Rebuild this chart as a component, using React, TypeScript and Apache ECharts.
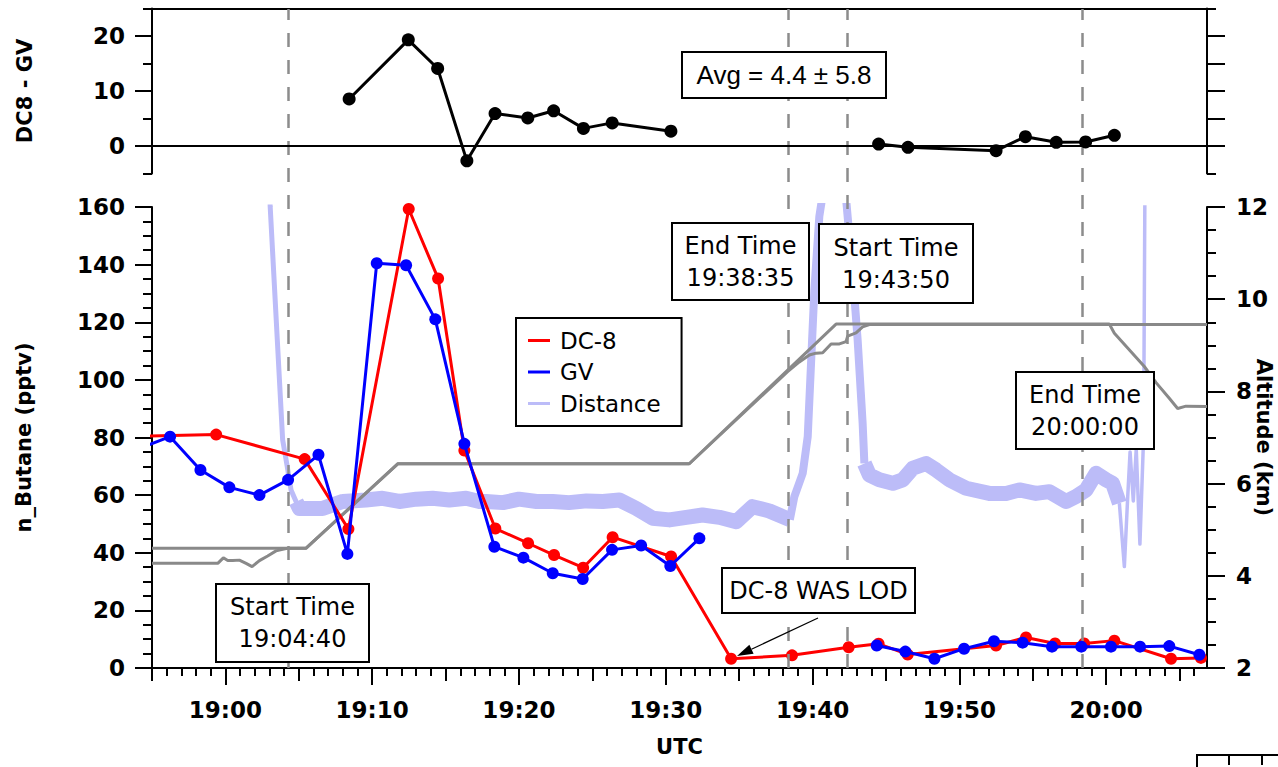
import React, { useEffect, useRef } from "react";
import * as echarts from "echarts";

// ---- data (x = minutes after 19:00 UTC) ----
const xMin = -5;
const xMax = 66.87;

const dc8Time = [-6.5, -0.63, 5.4, 8.38, 12.49, 14.49, 16.28, 18.39, 20.62, 22.39, 24.37, 26.38, 30.36, 34.45, 38.6, 42.46, 44.5, 46.48, 52.5, 54.54, 56.52, 58.5, 60.56, 64.42, 66.46];
const dc8Butane = [80.4, 81, 72.5, 48.2, 159.3, 135.2, 75.5, 48.4, 43.3, 39.2, 34.8, 45.4, 38.7, 3.2, 4.4, 7.2, 8.4, 4.7, 7.8, 10.6, 8.5, 8.5, 9.5, 3.2, 3.5];

const gvTime = [-5.8, -3.77, -1.7, 0.27, 2.32, 4.27, 6.34, 8.31, 10.31, 12.31, 14.3, 16.28, 18.32, 20.3, 22.3, 24.34, 26.34, 28.32, 30.31, 32.29, 38, 44.37, 46.32, 48.3, 50.32, 52.36, 54.31, 56.31, 58.31, 60.33, 62.31, 64.3, 66.35];
const gvButane = [76.3, 80.3, 68.7, 62.7, 60, 65.3, 74, 39.6, 140.5, 139.8, 121, 77.8, 42.1, 38.3, 32.9, 30.9, 41.0, 42.5, 35.4, 45.0, null, 7.8, 5.7, 3.2, 6.7, 9.3, 8.8, 7.4, 7.4, 7.4, 7.4, 7.6, 4.6];

const diffTime = [8.43, 12.46, 14.46, 16.45, 18.37, 20.6, 22.36, 24.39, 26.35, 30.35, 38, 44.5, 46.5, 52.5, 54.5, 56.6, 58.6, 60.56];
const diffValue = [8.55, 19.3, 14.1, -2.7, 5.9, 5.1, 6.4, 3.2, 4.2, 2.7, null, 0.36, -0.24, -0.85, 1.7, 0.67, 0.73, 1.94];

// altitude (km)
const altATime = [-5, 5.5, 11.74, 31.6, 41.6, 60.22, 60.56, 62.6, 63.4, 64.3, 64.87, 65.44, 66.87];
const altAKm = [4.6, 4.6, 6.43, 6.43, 9.46, 9.46, 9.26, 8.54, 8.19, 7.85, 7.63, 7.68, 7.67];
const altBTime = [-5, -0.52, -0.14, 0.16, 0.5, 0.95, 1.41, 1.82, 2.32, 2.88, 3.45, 4.13, 4.36, 5.5, 11.74, 31.6, 38.3, 39.1, 39.78, 40.24, 40.69, 41.26, 41.83, 42.28, 42.39, 42.96, 43.41, 43.87, 66.87];
const altBKm = [4.27, 4.27, 4.39, 4.33, 4.33, 4.34, 4.27, 4.2, 4.33, 4.43, 4.54, 4.59, 4.6, 4.6, 6.43, 6.43, 8.43, 8.64, 8.79, 8.83, 8.84, 9.03, 9.03, 9.08, 9.2, 9.27, 9.4, 9.45, 9.45];

// distance trace (plotted on its own hidden scale)
const distEntryTime = [3.0, 3.05, 3.9, 4.02, 4.25, 4.47, 4.82, 5.04];
const distEntry = [175, 160.2, 79.2, 75.7, 68.75, 61.8, 57.7, 55.4];
const distBandATime = [4.82, 5.04, 6.63, 8.0, 9.58, 10.7, 11.85, 13.0, 14.12, 15.26, 16.4, 17.3, 17.76, 18.9, 20.0, 21.2, 22.3, 23.4, 24.6, 25.7, 26.84, 27.98, 29.1, 30.25, 31.4, 32.5, 33.65, 34.8, 35.9, 37.06, 38.08, 38.45];
const distBandA = [57.7, 55.4, 55.4, 57.8, 58.3, 58.9, 57.8, 58.6, 58.9, 58.3, 58.9, 57.8, 57.8, 57.4, 58.6, 57.8, 57.8, 57.4, 58.0, 57.8, 58.3, 55.4, 52, 51.4, 52.3, 53.1, 52.3, 50.8, 56, 54.5, 52.3, 51.5];
const distPeakTime = [38.45, 38.76, 39.33, 39.67, 40.12, 40.46, 40.8, 41.5, 42.0, 42.28, 42.73, 43.07, 43.41, 43.53];
const distPeak = [51.5, 59.5, 67.6, 80.3, 131, 156.7, 168, 175, 172, 163, 137, 113.9, 85, 71];
const distBandBTime = [43.53, 43.87, 44.55, 45.46, 46.14, 46.82, 47.73, 48.41, 49.32, 50.46, 52.04, 53.18, 54.09, 55.22, 56.13, 57.27, 57.95, 58.63, 59.31, 60.0, 60.44, 60.9];
const distBandB = [71, 67, 65.3, 64.1, 65.3, 69.3, 71, 68.75, 65.3, 62.4, 60.6, 60.6, 61.8, 60.6, 61.2, 57.8, 59.5, 61.8, 67.6, 65.3, 64.1, 57.2];
const distSpikeTime = [60.9, 61.24, 61.47, 61.63, 61.85, 62.05, 62.3, 62.55, 62.65];
const distSpike = [57.2, 35.2, 59.5, 75, 58, 76, 43, 80, 175];

const boundaryTimes = [4.27, 38.32, 42.34, 58.34];

const xMajorTicks = [0, 10, 20, 30, 40, 50, 60];
const xMidTicks = [-5, 5, 15, 25, 35, 45, 55, 65];
const xMinorTicks: number[] = [];
for (let m = -5; m <= 66; m++) xMinorTicks.push(m);

const diffLabelTicks = [0, 10, 20];
const diffMinorTicks = [-5, 5, 15, 25];

// ---- styles ----
const FONT = "DejaVu Sans";
const RED = "#ff0000";
const BLUE = "#0000ff";
const DIST = "#bcbcf8";
const GRAY = "#898989";
const DASH = "#8c8c8c";
const black2 = { color: "#000", width: 2 };

const pairs = (xs: number[], ys: (number | null)[]) =>
  xs.map((x, i) => [x, ys[i] == null ? "-" : ys[i]]);

const fmtTime = (v: number) => {
  const t = Math.round(v);
  const h = 19 + Math.floor(t / 60);
  const m = ((t % 60) + 60) % 60;
  return `${h}:${String(m).padStart(2, "0")}`;
};

const titleStyle = { fontFamily: FONT, fontSize: 21, fontWeight: "bold", color: "#000" };
const tickLabel = { fontFamily: FONT, fontSize: 23, fontWeight: "bold", color: "#000" };

function box(x: number, y: number, w: number, h: number, text: string, font = FONT, size = 24) {
  return {
    type: "group",
    z: 100,
    children: [
      { type: "rect", z: 100, shape: { x, y, width: w, height: h }, style: { fill: "#fff", stroke: "#000", lineWidth: 2 } },
      {
        type: "text",
        z: 101,
        x: x + w / 2,
        y: y + h / 2,
        style: { text, fill: "#000", font: `${size}px '${font}'`, align: "center", verticalAlign: "middle", lineHeight: 32 },
      },
    ],
  };
}

// arrow
const arrowStart = [818, 618];
const arrowTip = [737, 656];
const ad = [arrowTip[0] - arrowStart[0], arrowTip[1] - arrowStart[1]];
const al = Math.hypot(ad[0], ad[1]);
const au = [ad[0] / al, ad[1] / al];
const headLen = 16, headHalf = 5;
const hb = [arrowTip[0] - au[0] * headLen, arrowTip[1] - au[1] * headLen];
const hn = [-au[1] * headHalf, au[0] * headHalf];

const yLine = (show: boolean) => ({ show, onZero: false, lineStyle: black2 });

const option: any = {
  animation: false,
  backgroundColor: "#fff",
  grid: [
    { left: 152, top: 8.5, width: 1055, height: 165, outerBoundsMode: "none", containLabel: false },
    { left: 152, top: 207, width: 1055, height: 461, outerBoundsMode: "none", containLabel: false },
    { left: 152, top: 9, width: 1055, height: 659, outerBoundsMode: "none", containLabel: false },
  ],
  legend: {
    data: ["DC-8", "GV", "Distance"],
    orient: "vertical",
    left: 516,
    top: 318,
    padding: [11, 21, 11, 12],
    itemWidth: 22,
    itemHeight: 3,
    itemGap: 8.5,
    icon: "rect",
    borderColor: "#000",
    borderWidth: 2,
    backgroundColor: "#fff",
    textStyle: { fontFamily: FONT, fontSize: 23, color: "#000", padding: [0, 0, 0, 5] },
    z: 50,
  },
  xAxis: [
    { gridIndex: 0, type: "value", min: xMin, max: xMax, show: false, axisLine: { onZero: false } },
    {
      gridIndex: 0, type: "value", min: xMin, max: xMax, position: "top",
      axisLine: { show: true, onZero: false, lineStyle: black2 },
      axisTick: { show: false }, axisLabel: { show: false }, splitLine: { show: false },
    },
    {
      gridIndex: 1, type: "value", min: xMin, max: xMax, position: "bottom",
      axisLine: { show: true, onZero: false, lineStyle: black2 },
      axisTick: { show: true, customValues: xMajorTicks, length: 17, lineStyle: black2 },
      axisLabel: { show: true, customValues: xMajorTicks, formatter: fmtTime, margin: 30, ...tickLabel },
      splitLine: { show: false },
      name: "UTC", nameLocation: "middle", nameGap: 68, nameTextStyle: titleStyle, nameMoveOverlap: false,
    },
    {
      gridIndex: 1, type: "value", min: xMin, max: xMax, position: "bottom",
      axisLine: { show: false, onZero: false },
      axisTick: { show: true, customValues: xMidTicks, length: 13, lineStyle: black2 },
      axisLabel: { show: false }, splitLine: { show: false },
    },
    {
      gridIndex: 1, type: "value", min: xMin, max: xMax, position: "bottom",
      axisLine: { show: false, onZero: false },
      axisTick: { show: true, customValues: xMinorTicks, length: 8, lineStyle: black2 },
      axisLabel: { show: false }, splitLine: { show: false },
    },
    { gridIndex: 2, type: "value", min: xMin, max: xMax, show: false, axisLine: { onZero: false } },
  ],
  yAxis: [
    {
      gridIndex: 0, type: "value", min: -5, max: 25, position: "left",
      axisLine: yLine(true),
      axisTick: { show: true, customValues: diffLabelTicks, length: 17, lineStyle: black2 },
      axisLabel: { show: true, customValues: diffLabelTicks, margin: 27, ...tickLabel },
      splitLine: { show: false },
      name: "DC8 - GV", nameLocation: "middle", nameRotate: 90, nameGap: 117, nameTextStyle: titleStyle, nameMoveOverlap: false,
    },
    {
      gridIndex: 0, type: "value", min: -5, max: 25, position: "left",
      axisLine: yLine(false),
      axisTick: { show: true, customValues: diffMinorTicks, length: 9, lineStyle: black2 },
      axisLabel: { show: false }, splitLine: { show: false },
    },
    {
      gridIndex: 0, type: "value", min: -5, max: 25, position: "right",
      axisLine: yLine(true),
      axisTick: { show: true, customValues: [0, 5, 10, 15, 20], length: 18, lineStyle: black2 },
      axisLabel: { show: false }, splitLine: { show: false },
    },
    {
      gridIndex: 0, type: "value", min: -5, max: 25, position: "right",
      axisLine: yLine(false),
      axisTick: { show: true, customValues: [-5, 25], length: 9, lineStyle: black2 },
      axisLabel: { show: false }, splitLine: { show: false },
    },
    {
      gridIndex: 1, type: "value", min: 0, max: 160, interval: 20, position: "left",
      axisLine: yLine(true),
      axisTick: { show: true, length: 17, lineStyle: black2 },
      minorTick: { show: true, splitNumber: 4, length: 9, lineStyle: black2 },
      axisLabel: { show: true, margin: 27, ...tickLabel },
      splitLine: { show: false }, minorSplitLine: { show: false },
      name: "n_Butane (pptv)", nameLocation: "middle", nameRotate: 90, nameGap: 118, nameTextStyle: titleStyle, nameMoveOverlap: false,
    },
    {
      gridIndex: 1, type: "value", min: 2, max: 12, interval: 2, position: "right",
      axisLine: yLine(true),
      axisTick: { show: true, length: 18, lineStyle: black2 },
      minorTick: { show: true, splitNumber: 4, length: 9, lineStyle: black2 },
      axisLabel: { show: true, margin: 29, ...tickLabel },
      splitLine: { show: false }, minorSplitLine: { show: false },
      name: "Altitude (km)", nameLocation: "middle", nameRotate: -90, nameGap: 46, nameTextStyle: titleStyle, nameMoveOverlap: false,
    },
    { gridIndex: 1, type: "value", min: 0, max: 160, show: false, axisLine: { onZero: false } },
    { gridIndex: 2, type: "value", min: 0, max: 1, show: false, axisLine: { onZero: false } },
  ],
  series: [
    {
      type: "line", name: "Distance", xAxisIndex: 2, yAxisIndex: 6, data: pairs(distEntryTime, distEntry),
      symbol: "none", lineStyle: { color: DIST, width: 5, join: "round" }, itemStyle: { color: DIST }, z: 1, silent: true, clip: true,
    },
    {
      type: "line", name: "Distance", xAxisIndex: 2, yAxisIndex: 6, data: pairs(distBandATime, distBandA),
      symbol: "none", lineStyle: { color: DIST, width: 15, join: "round" }, itemStyle: { color: DIST }, z: 1, silent: true, clip: true,
    },
    {
      type: "line", name: "Distance", xAxisIndex: 2, yAxisIndex: 6, data: pairs(distPeakTime, distPeak),
      symbol: "none", lineStyle: { color: DIST, width: 8, join: "round" }, itemStyle: { color: DIST }, z: 1, silent: true, clip: true,
    },
    {
      type: "line", name: "Distance", xAxisIndex: 2, yAxisIndex: 6, data: pairs(distBandBTime, distBandB),
      symbol: "none", lineStyle: { color: DIST, width: 15, join: "round" }, itemStyle: { color: DIST }, z: 1, silent: true, clip: true,
    },
    {
      type: "line", name: "Distance", xAxisIndex: 2, yAxisIndex: 6, data: pairs(distSpikeTime, distSpike),
      symbol: "none", lineStyle: { color: DIST, width: 3.5, join: "round" }, itemStyle: { color: DIST }, z: 1, silent: true, clip: true,
    },
    {
      type: "line", name: "Boundaries", xAxisIndex: 5, yAxisIndex: 7, data: [], z: 2, silent: true,
      markLine: {
        silent: true, symbol: "none", label: { show: false },
        lineStyle: { color: DASH, width: 2.5, type: [14, 13] },
        data: boundaryTimes.map((t) => ({ xAxis: t })),
      },
    },
    {
      type: "line", name: "Altitude A", xAxisIndex: 2, yAxisIndex: 5, data: pairs(altATime, altAKm),
      symbol: "none", lineStyle: { color: GRAY, width: 3 }, itemStyle: { color: GRAY }, z: 3, silent: true,
    },
    {
      type: "line", name: "Altitude B", xAxisIndex: 2, yAxisIndex: 5, data: pairs(altBTime, altBKm),
      symbol: "none", lineStyle: { color: GRAY, width: 3 }, itemStyle: { color: GRAY }, z: 3, silent: true,
    },
    {
      type: "line", name: "DC-8", xAxisIndex: 2, yAxisIndex: 4, data: pairs(dc8Time, dc8Butane),
      symbol: "circle", symbolSize: 12, showAllSymbol: true, clip: true,
      lineStyle: { color: RED, width: 3 }, itemStyle: { color: RED }, z: 4,
    },
    {
      type: "line", name: "GV", xAxisIndex: 2, yAxisIndex: 4, data: pairs(gvTime, gvButane),
      symbol: "circle", symbolSize: 12, showAllSymbol: true, clip: true, connectNulls: false,
      lineStyle: { color: BLUE, width: 3 }, itemStyle: { color: BLUE }, z: 5,
    },
    {
      type: "line", name: "DC8 - GV", xAxisIndex: 0, yAxisIndex: 0, data: pairs(diffTime, diffValue),
      symbol: "circle", symbolSize: 13, showAllSymbol: true, connectNulls: false,
      lineStyle: { color: "#000", width: 3 }, itemStyle: { color: "#000" }, z: 5,
      markLine: {
        silent: true, symbol: "none", label: { show: false },
        lineStyle: { color: "#000", width: 2, type: "solid" },
        data: [{ yAxis: 0 }],
      },
    },
  ],
  graphic: [
    box(682, 52, 204, 46, "Avg = 4.4 ± 5.8", "Liberation Sans", 26),
    box(216, 584, 153, 78, "Start Time\n19:04:40"),
    box(672, 223, 137, 77, "End Time\n19:38:35"),
    box(819, 224, 154, 79, "Start Time\n19:43:50"),
    box(1016, 372, 138, 77, "End Time\n20:00:00"),
    box(722, 568, 193, 45, "DC-8 WAS LOD"),
    {
      type: "line", z: 90,
      shape: { x1: arrowStart[0], y1: arrowStart[1], x2: hb[0], y2: hb[1] },
      style: { stroke: "#000", lineWidth: 1.2 },
    },
    {
      type: "polygon", z: 90,
      shape: { points: [arrowTip, [hb[0] + hn[0], hb[1] + hn[1]], [hb[0] - hn[0], hb[1] - hn[1]]] },
      style: { fill: "#000" },
    },
    { type: "line", z: 90, shape: { x1: 1197, y1: 755, x2: 1278, y2: 755 }, style: { stroke: "#000", lineWidth: 2 } },
    { type: "line", z: 90, shape: { x1: 1197, y1: 754, x2: 1197, y2: 767 }, style: { stroke: "#000", lineWidth: 2 } },
    { type: "line", z: 90, shape: { x1: 1229, y1: 755, x2: 1229, y2: 765 }, style: { stroke: "#000", lineWidth: 2 } },
    { type: "line", z: 90, shape: { x1: 1262, y1: 755, x2: 1262, y2: 765 }, style: { stroke: "#000", lineWidth: 2 } },
  ],
};

export default function App() {
  const ref = useRef<HTMLDivElement>(null);
  useEffect(() => {
    if (!ref.current) return;
    const chart = echarts.init(ref.current, null, { renderer: "svg" });
    chart.setOption(option);
    return () => chart.dispose();
  }, []);
  return (
    <div
      ref={ref}
      style={{ position: "absolute", left: 0, top: 0, width: 1278, height: 767, background: "#fff" }}
    />
  );
}
